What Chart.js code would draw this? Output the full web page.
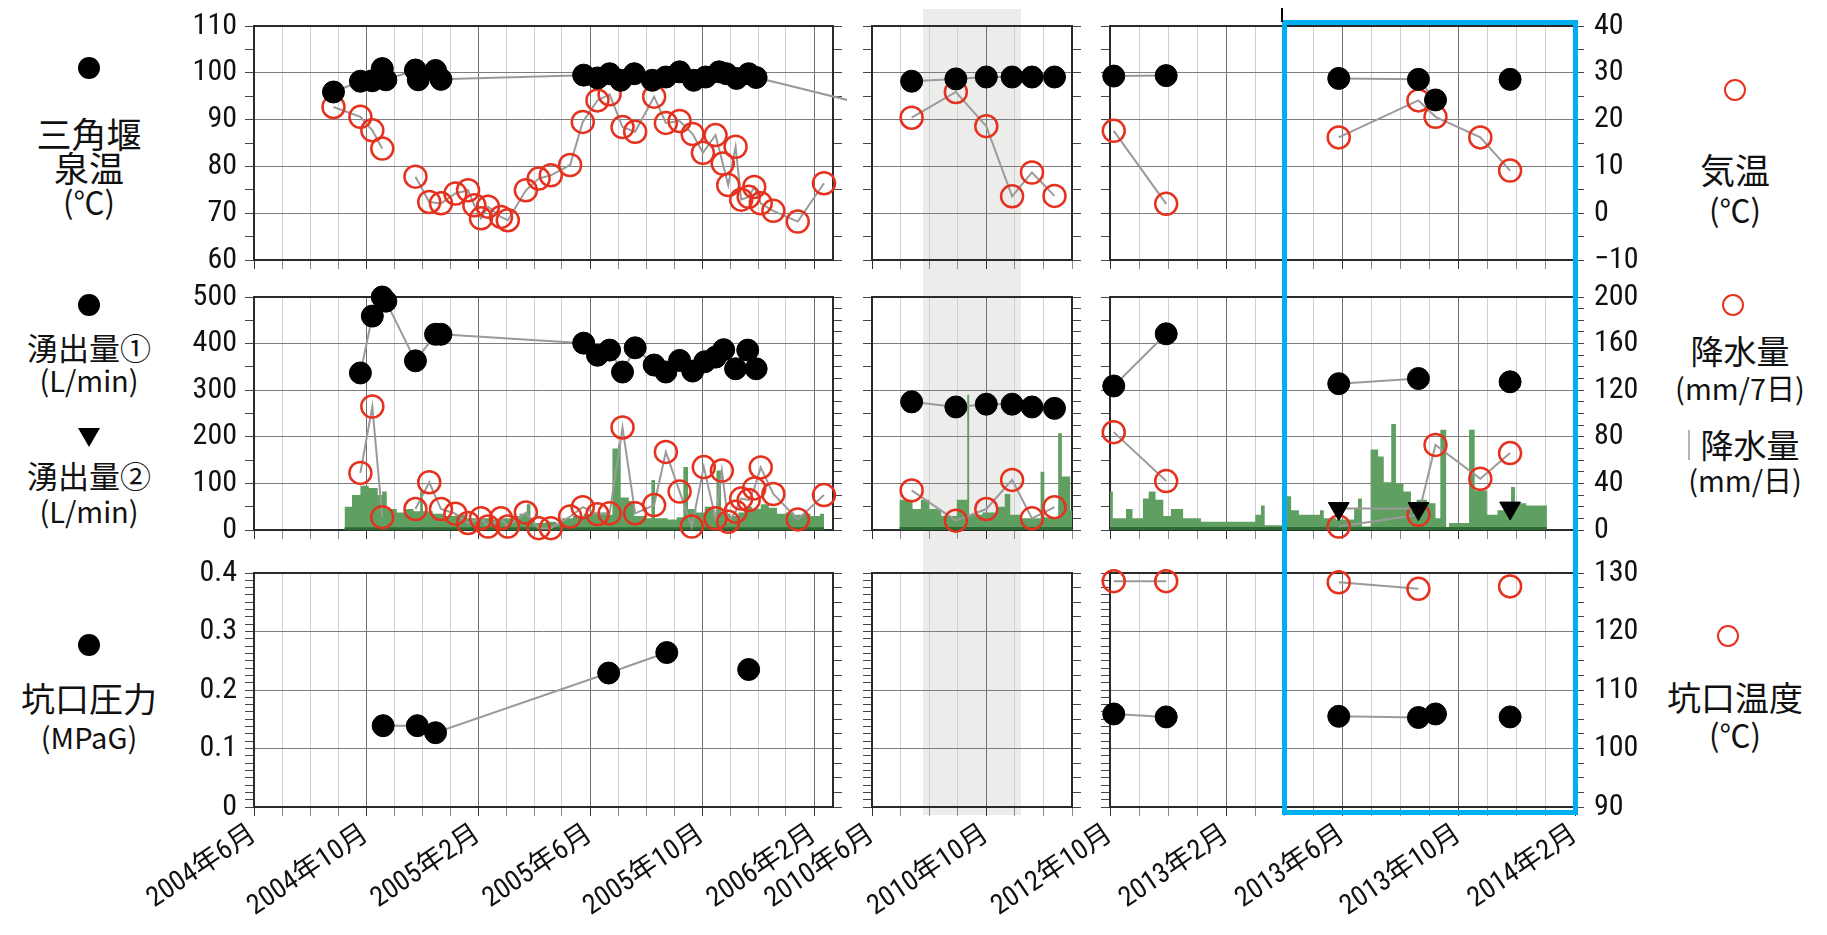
<!DOCTYPE html>
<html lang="ja">
<head>
<meta charset="utf-8">
<title>三角堰 観測データ</title>
<script src="https://cdn.jsdelivr.net/npm/chart.js@4.4.1/dist/chart.umd.min.js"></script>
<style>
  html, body { margin: 0; padding: 0; background: #fff; }
  #page { position: relative; width: 1827px; height: 935px; overflow: hidden; font-family: 'Noto Sans CJK JP', sans-serif; color: #111; }
  #page canvas { position: absolute; }
  .t { position: absolute; transform: translate(-50%, -50%); white-space: nowrap; line-height: 1; }
  .dot { position: absolute; width: 22px; height: 22px; margin: -11px 0 0 -11px; border-radius: 50%; background: #000; }
  .ring { position: absolute; width: 18px; height: 18px; margin: -11px 0 0 -11px; border-radius: 50%; border: 2px solid #e5321f; }
  .tri { position: absolute; width: 0; height: 0; margin: -9px 0 0 -11px; border-left: 11px solid transparent; border-right: 11px solid transparent; border-top: 19px solid #000; }
  .bar { position: absolute; width: 2px; background: #b5b5b5; }
  #shade { position: absolute; background: #ececea; }
  #focus { position: absolute; border: 5px solid #00aeef; box-sizing: border-box; z-index: 5; }
  #focusMark { position: absolute; width: 2px; background: #000; z-index: 5; }
</style>
</head>
<body>
<div id="page">
  <div id="shade"></div>

  <!-- left titles -->
  <div class="dot" style="left:89px;top:68px"></div>
  <div class="t" style="left:89px;top:132px;font-size:35px">三角堰</div>
  <div class="t" style="left:89px;top:166px;font-size:35px">泉温</div>
  <div class="t" style="left:89px;top:200px;font-size:31px">(℃)</div>

  <div class="dot" style="left:89px;top:305px"></div>
  <div class="t" style="left:89px;top:346px;font-size:31px">湧出量①</div>
  <div class="t" style="left:89px;top:379px;font-size:29px">(L/min)</div>
  <div class="tri" style="left:89px;top:437px"></div>
  <div class="t" style="left:89px;top:474px;font-size:31px">湧出量②</div>
  <div class="t" style="left:89px;top:510px;font-size:29px">(L/min)</div>

  <div class="dot" style="left:89px;top:645px"></div>
  <div class="t" style="left:89px;top:698px;font-size:34px">坑口圧力</div>
  <div class="t" style="left:89px;top:736px;font-size:29px">(MPaG)</div>

  <!-- right titles -->
  <div class="ring" style="left:1735px;top:90px"></div>
  <div class="t" style="left:1735px;top:168px;font-size:35px">気温</div>
  <div class="t" style="left:1735px;top:208px;font-size:31px">(℃)</div>

  <div class="ring" style="left:1733px;top:305px"></div>
  <div class="t" style="left:1740px;top:350px;font-size:33px">降水量</div>
  <div class="t" style="left:1740px;top:387px;font-size:29px">(mm/7日)</div>
  <div class="bar" style="left:1688px;top:430px;height:30px"></div>
  <div class="t" style="left:1750px;top:444px;font-size:33px">降水量</div>
  <div class="t" style="left:1745px;top:479px;font-size:29px">(mm/日)</div>

  <div class="ring" style="left:1728px;top:636px"></div>
  <div class="t" style="left:1735px;top:697px;font-size:34px">坑口温度</div>
  <div class="t" style="left:1735px;top:733px;font-size:31px">(℃)</div>

  <div id="focus"></div>
  <div id="focusMark"></div>
</div>
<script>
// ---- data (null = break in the line) ----
const springTempDates = ['2004-08-27','2004-09-25','2004-10-08','2004-10-19','2004-10-23','2004-11-24','2004-11-27','2004-12-16','2004-12-22',
  '2005-05-25','2005-06-09','2005-06-22','2005-07-04','2005-07-19','2005-08-08','2005-08-23','2005-09-07','2005-09-22','2005-10-05',
  '2005-10-20','2005-10-28','2005-11-08','2005-11-21','2005-11-29','2006-04-01','2008-01-01',
  '2010-07-13','2010-08-30','2010-10-01','2010-10-29','2010-11-19','2010-12-13','2011-12-01',
  '2012-10-05','2012-11-29','2013-03-01','2013-05-28','2013-08-20','2013-09-07','2013-10-15','2013-11-24'];
const springTempValues = [95.9, 98.2, 98.3, 100.9, 98.5, 100.6, 98.5, 100.5, 98.6,
  99.5, 98.9, 99.8, 98.4, 99.8, 98.4, 99.1, 100.2, 98.4, 99.1,
  100.2, 99.8, 98.8, 99.8, 99.0, 93.0, null,
  98.2, 98.7, 99.1, 99.1, 99.1, 99.1, null,
  99.3, 99.4, null, 98.8, 98.6, 94.2, null, 98.6];

const airTempDates = ['2004-08-27','2004-09-25','2004-10-08','2004-10-19','2004-11-05','2004-11-24','2004-12-09','2004-12-22',
  '2005-01-07','2005-01-21','2005-01-28','2005-02-04','2005-02-11','2005-02-24','2005-03-03','2005-03-23','2005-04-06','2005-04-19',
  '2005-05-10','2005-05-24','2005-06-09','2005-06-22','2005-07-06','2005-07-20','2005-08-10','2005-08-23','2005-09-07','2005-09-21',
  '2005-10-02','2005-10-16','2005-10-24','2005-10-30','2005-11-07','2005-11-13','2005-11-21','2005-11-27','2005-12-04','2005-12-18',
  '2006-01-14','2006-02-11','2008-01-01',
  '2010-07-13','2010-08-30','2010-10-01','2010-10-29','2010-11-19','2010-12-13','2011-12-01',
  '2012-10-05','2012-11-29','2013-03-01','2013-05-28','2013-08-20','2013-09-07','2013-10-24','2013-11-24'];
const airTempValues = [22.7, 20.6, 17.7, 13.8, null, 7.8, 2.4, 2.1,
  4.2, 4.9, 1.7, -1.1, 1.4, -0.8, -1.5, 4.9, 7.4, 8.1,
  10.3, 19.5, 24.1, 25.4, 18.4, 17.4, 24.9, 19.3, 19.7, 16.9,
  12.9, 16.7, 10.6, 6.0, 14.2, 2.9, 3.5, 5.6, 2.1, 0.5,
  -1.8, 6.4, null,
  20.4, 25.9, 18.6, 3.6, 8.7, 3.7, null,
  17.6, 2.0, null, 16.2, 24.1, 20.6, 16.2, 9.1];

const flow1Dates = ['2004-09-25','2004-10-08','2004-10-19','2004-10-23','2004-11-24','2004-12-16','2004-12-22',
  '2005-05-25','2005-06-09','2005-06-22','2005-07-06','2005-07-20','2005-08-10','2005-08-23','2005-09-07','2005-09-21',
  '2005-10-04','2005-10-16','2005-10-25','2005-11-07','2005-11-20','2005-11-29','2008-01-01',
  '2010-07-13','2010-08-30','2010-10-01','2010-10-29','2010-11-19','2010-12-13','2011-12-01',
  '2012-10-05','2012-11-29','2013-03-01','2013-05-28','2013-08-20','2013-10-15','2013-11-24'];
const flow1Values = [337, 459, 500, 491, 363, 420, 420,
  401, 375, 386, 339, 391, 354, 339, 364, 341,
  361, 371, 387, 346, 386, 346, null,
  275, 264, 270, 270, 264, 261, null,
  309, 421, null, 314, 325, null, 318];

const flow2Dates = ['2013-05-28','2013-08-20','2013-10-15','2013-11-24'];
const flow2Values = [46, 46, null, 47];

const rain7Dates = ['2004-09-25','2004-10-08','2004-10-19','2004-11-05','2004-11-24','2004-12-09','2004-12-22',
  '2005-01-07','2005-01-21','2005-02-04','2005-02-11','2005-02-24','2005-03-03','2005-03-23','2005-04-06','2005-04-19',
  '2005-05-10','2005-05-24','2005-06-09','2005-06-22','2005-07-06','2005-07-20','2005-08-10','2005-08-23','2005-09-07',
  '2005-09-20','2005-10-03','2005-10-16','2005-10-23','2005-10-30','2005-11-07','2005-11-13','2005-11-21','2005-11-27',
  '2005-12-04','2005-12-18','2006-01-14','2006-02-11','2008-01-01',
  '2010-07-13','2010-08-30','2010-10-01','2010-10-29','2010-11-19','2010-12-13','2011-12-01',
  '2012-10-05','2012-11-29','2013-03-01','2013-05-28','2013-08-20','2013-09-07','2013-10-24','2013-11-24'];
const rain7Values = [49, 106, 11, null, 18, 41, 18,
  14, 6, 10, 3, 10, 3, 15, 1.6, 1.6,
  11.6, 19.6, 13.6, 14.3, 88, 14.3, 21.4, 67, 33,
  2.9, 54, 10, 51, 7, 15.7, 27, 25.7, 35.7,
  53.7, 30.9, 9.1, 30, null,
  34, 8, 18, 43, 10, 19.6, null,
  84, 42, null, 3, 13, 73, 44, 66];

// daily rainfall, each value holds until the next date
const rainDailyDates = ['2004-09-08','2004-09-16','2004-09-25','2004-10-04','2004-10-14','2004-10-19','2004-10-24','2004-11-04',
  '2004-11-13','2004-11-22','2004-11-29','2004-12-02','2004-12-13','2004-12-25','2005-01-07','2005-01-19','2005-02-01',
  '2005-02-12','2005-02-23','2005-03-07','2005-03-16','2005-03-24','2005-03-28','2005-04-13','2005-04-25','2005-05-01',
  '2005-05-13','2005-05-25','2005-06-07','2005-06-19','2005-06-25','2005-07-01','2005-07-04','2005-07-13','2005-07-19',
  '2005-08-01','2005-08-07','2005-08-11','2005-08-25','2005-09-04','2005-09-11','2005-09-16','2005-09-25','2005-10-04',
  '2005-10-14','2005-10-17','2005-10-22','2005-11-01','2005-11-10','2005-11-16','2005-11-25','2005-12-04','2005-12-13',
  '2005-12-22','2006-01-01','2006-01-10','2006-01-19','2006-01-28','2006-02-07','2006-02-11',
  '2010-06-30','2010-07-14','2010-07-23','2010-08-01','2010-08-14','2010-08-31','2010-09-11','2010-09-13','2010-09-27',
  '2010-10-12','2010-10-21','2010-10-27','2010-11-07','2010-11-28','2010-12-02','2010-12-17','2010-12-21','2010-12-30','2011-01-01',
  '2012-10-01','2012-10-04','2012-10-18','2012-10-25','2012-11-05','2012-11-11','2012-11-18','2012-11-26','2012-12-04',
  '2012-12-17','2013-01-05','2013-03-01','2013-03-07','2013-03-11','2013-04-01','2013-04-08','2013-04-16','2013-05-08',
  '2013-05-12','2013-05-25','2013-06-13','2013-06-17','2013-06-21','2013-06-30','2013-07-08','2013-07-14','2013-07-22',
  '2013-07-27','2013-08-04','2013-08-12','2013-08-18','2013-08-29','2013-09-07','2013-09-12','2013-09-18','2013-09-21',
  '2013-10-12','2013-10-18','2013-10-31','2013-11-11','2013-11-25','2013-11-29','2013-12-11','2014-01-02'];
const rainDailyValues = [20, 30, 38, 36, 30, 33, 18, 15,
  18, 16, 33, 16, 14, 12, 13, 10, 10,
  9, 10, 12, 14, 22, 6, 7, 5, 10,
  12, 14, 15, 13, 70, 73, 28, 25, 12,
  10, 43, 10, 9, 11, 54, 18, 15, 20,
  12, 51, 14, 12, 15, 20, 18, 22, 19,
  14, 15, 13, 14, 12, 14, 0,
  26, 18, 26, 18, 12, 26, 116, 13, 15,
  20, 31, 13, 10, 50, 11, 83, 46, 17, 0,
  33, 10, 18, 10, 27, 33, 26, 12, 18,
  10, 7, 13, 21, 4, 29, 17, 13, 17,
  10, 9, 19, 27, 3, 69, 63, 41, 91,
  40, 33, 17, 26, 23, 10, 86, 0, 6,
  86, 34, 13, 17, 37, 23, 21, 0];

// periods covered by the daily rain record (drawn as a dark base line)
const rainBaseDates = ['2004-09-08','2006-02-11','2008-01-01','2010-06-30','2011-01-01','2011-12-01','2012-10-01','2014-01-02'];
const rainBaseValues = [1, 1, null, 1.2, 1.2, null, 1.2, 1.2];

const pressureDates = ['2004-10-20','2004-11-26','2004-12-16','2005-06-21','2005-08-24','2005-10-01','2005-11-21','2008-01-01',
  '2012-10-05','2012-11-29','2013-03-01','2013-05-28','2013-08-20','2013-09-07','2013-10-15','2013-11-24'];
const pressureValues = [0.139, 0.139, 0.127, 0.229, 0.264, null, 0.235, null,
  0.159, 0.154, null, 0.155, 0.153, 0.159, null, 0.154];

const wellTempDates = ['2012-10-05','2012-11-29','2013-03-01','2013-05-28','2013-08-20','2013-10-15','2013-11-24'];
const wellTempValues = [128.6, 128.6, null, 128.4, 127.3, null, 127.7];

const panelRanges = [['2004-06-01','2006-02-20'], ['2010-06-01','2011-01-01'], ['2012-10-01','2014-02-01']];
const shadeRange = ['2010-07-25', '2010-11-07'];
const focusStart = '2013-04-01';

// ---- layout ----
const panelLeft = [254, 872, 1110], panelRight = [833, 1072, 1575];
const panelTop = [26, 297, 573], panelBottom = [260, 530, 807];
const axisSpecs = [
  { left: [60, 110, 5, 10], right: [-10, 40, 5, 10] },
  { left: [0, 500, 50, 100], right: [0, 200, 10, 40] },
  { left: [0, 0.4, 0.0125, 0.1], right: [90, 130, 2.5, 10] }
];

Chart.defaults.font.family = "'Roboto Condensed', 'DejaVu Sans Condensed', 'Liberation Sans Narrow', 'Noto Sans CJK JP', sans-serif";
Chart.defaults.color = '#111';

function toX(s) {
  const [y, m, d] = s.split('-').map(Number);
  const days = new Date(y, m, 0).getDate();
  return (y - 2000) * 12 + (m - 1) + (d - 1) / days;
}
function series(dates, values) {
  return dates.map((d, i) => ({ x: toX(d), y: values[i] }));
}
function isMajor(v, major) {
  const r = v / major;
  return Math.abs(r - Math.round(r)) < 1e-6;
}
function isLabelMonth(v) {
  if (Math.abs(v - Math.round(v)) > 1e-6) return false;
  const m = ((Math.round(v) % 12) + 12) % 12;
  return m === 1 || m === 5 || m === 9;
}
function monthLabel(v) {
  const n = Math.round(v);
  return (2000 + Math.floor(n / 12)) + '年' + (n % 12 + 1) + '月';
}
function numLabel(v) {
  const n = Math.round(v * 1000) / 1000;
  return n < 0 ? '\u2212' + String(-n) : String(n);
}

const frame = {
  id: 'frame',
  beforeDatasetsDraw(chart) {
    const a = chart.chartArea, c = chart.ctx;
    c.save();
    c.strokeStyle = '#2a2a2a';
    c.lineWidth = 2;
    c.strokeRect(a.left, a.top, a.right - a.left, a.bottom - a.top);
    c.restore();
  }
};

function rowDatasets(row) {
  const base = { showLine: true, borderColor: '#9a9a9a', borderWidth: 2, spanGaps: false, clip: 14, pointHoverRadius: 0 };
  const black = { ...base, pointRadius: 11, pointBackgroundColor: '#000', pointBorderColor: '#000', pointBorderWidth: 1, order: 0 };
  const red = { ...base, pointRadius: 11, pointBackgroundColor: 'rgba(0,0,0,0)', pointBorderColor: '#e5321f', pointBorderWidth: 2.5, order: 2 };
  if (row === 0) {
    return [
      { ...black, label: '泉温', yAxisID: 'y', data: series(springTempDates, springTempValues) },
      { ...red, label: '気温', yAxisID: 'y2', data: series(airTempDates, airTempValues) }
    ];
  }
  if (row === 1) {
    return [
      { ...black, label: '湧出量①', yAxisID: 'y', data: series(flow1Dates, flow1Values) },
      { ...black, label: '湧出量②', yAxisID: 'y', pointStyle: 'triangle', rotation: 180, pointRadius: 12, order: 1,
        data: series(flow2Dates, flow2Values) },
      { ...red, label: '降水量(mm/7日)', yAxisID: 'y2', data: series(rain7Dates, rain7Values) },
      { label: '降水量基線', yAxisID: 'y2', data: series(rainBaseDates, rainBaseValues), borderColor: '#2e6b34',
        borderWidth: 3, pointRadius: 0, pointHoverRadius: 0, spanGaps: false, clip: 2, order: 3 },
      { label: '降水量(mm/日)', yAxisID: 'y2', data: series(rainDailyDates, rainDailyValues), stepped: true,
        fill: 'origin', backgroundColor: '#5f9f62', borderColor: 'rgba(0,0,0,0)', borderWidth: 0,
        pointRadius: 0, pointHoverRadius: 0, order: 4 }
    ];
  }
  return [
    { ...black, label: '坑口圧力', yAxisID: 'y', data: series(pressureDates, pressureValues) },
    { ...red, label: '坑口温度', yAxisID: 'y2', data: series(wellTempDates, wellTempValues) }
  ];
}

const page = document.getElementById('page');
const charts = [];

function makePanel(row, col) {
  const L = col === 0 ? 110 : 10;
  const R = col === 2 ? 90 : 10;
  const B = row === 2 ? 125 : 14;
  const padT = 30, padB = 20;
  const pl = panelLeft[col], pr = panelRight[col], pt = panelTop[row], pb = panelBottom[row];
  const offsetX = pl - 180, offsetY = pt - padT;

  const canvas = document.createElement('canvas');
  canvas.width = 180 + (pr - pl) + 130;
  canvas.height = padT + (pb - pt) + B + padB;
  canvas.style.left = offsetX + 'px';
  canvas.style.top = offsetY + 'px';
  page.insertBefore(canvas, document.getElementById('focus'));

  const spec = axisSpecs[row];
  const [lMin, lMax, lStep, lMajor] = spec.left;
  const [rMin, rMax, rStep, rMajor] = spec.right;

  const chart = new Chart(canvas.getContext('2d'), {
    type: 'line',
    data: { datasets: rowDatasets(row) },
    options: {
      responsive: false,
      animation: false,
      events: [],
      layout: { padding: { left: 180 - L, right: 130 - R, top: padT, bottom: padB } },
      plugins: { legend: { display: false }, tooltip: { enabled: false } },
      scales: {
        x: {
          type: 'linear',
          min: toX(panelRanges[col][0]),
          max: toX(panelRanges[col][1]),
          afterFit: s => { s.height = B; },
          border: { display: false },
          grid: {
            color: c => isLabelMonth(c.tick.value) ? '#707070' : '#cfcfcf',
            lineWidth: 1,
            drawTicks: true,
            tickLength: 9,
            tickColor: c => isLabelMonth(c.tick.value) ? '#333' : '#8a8a8a'
          },
          ticks: {
            display: row === 2,
            stepSize: 1,
            includeBounds: false,
            autoSkip: false,
            minRotation: 34,
            maxRotation: 34,
            padding: 2,
            font: { size: 28 },
            callback: v => isLabelMonth(v) ? monthLabel(v) : ''
          }
        },
        y: {
          position: 'left',
          min: lMin, max: lMax,
          afterFit: s => { s.width = L; },
          border: { display: false },
          grid: {
            color: c => isMajor(c.tick.value, lMajor) ? '#7d7d7d' : 'rgba(0,0,0,0)',
            drawTicks: true,
            tickLength: 9,
            tickColor: '#444'
          },
          ticks: {
            display: col === 0,
            stepSize: lStep,
            autoSkip: false,
            padding: 8,
            font: { size: 30 },
            callback: v => isMajor(v, lMajor) ? numLabel(v) : ''
          }
        },
        y2: {
          position: 'right',
          min: rMin, max: rMax,
          afterFit: s => { s.width = R; },
          border: { display: false },
          grid: { drawOnChartArea: false, drawTicks: true, tickLength: 9, tickColor: '#444' },
          ticks: {
            display: col === 2,
            stepSize: rStep,
            autoSkip: false,
            padding: 10,
            font: { size: 30 },
            callback: v => isMajor(v, rMajor) ? numLabel(v) : ''
          }
        }
      }
    },
    plugins: [frame]
  });
  return { chart, offsetX, offsetY };
}

for (let r = 0; r < 3; r++) {
  charts.push([0, 1, 2].map(c => makePanel(r, c)));
}

// grey band in the middle panel, placed through its x scale
const mid = charts[0][1];
const sxMid = mid.chart.scales.x;
const shade = document.getElementById('shade');
const s0 = mid.offsetX + sxMid.getPixelForValue(toX(shadeRange[0]));
const s1 = mid.offsetX + sxMid.getPixelForValue(toX(shadeRange[1]));
shade.style.left = s0 + 'px';
shade.style.width = (s1 - s0) + 'px';
shade.style.top = '9px';
shade.style.height = '806px';

// blue focus frame on the right panel
const last = charts[0][2];
const sxLast = last.chart.scales.x;
const f0 = last.offsetX + sxLast.getPixelForValue(toX(focusStart)) - 2;
const f1 = last.offsetX + sxLast.getPixelForValue(toX(panelRanges[2][1])) + 3;
const focus = document.getElementById('focus');
focus.style.left = f0 + 'px';
focus.style.width = (f1 - f0) + 'px';
focus.style.top = '20px';
focus.style.height = '795px';
const mark = document.getElementById('focusMark');
mark.style.left = (f0 - 1) + 'px';
mark.style.top = '8px';
mark.style.height = '14px';
</script>
</body>
</html>
